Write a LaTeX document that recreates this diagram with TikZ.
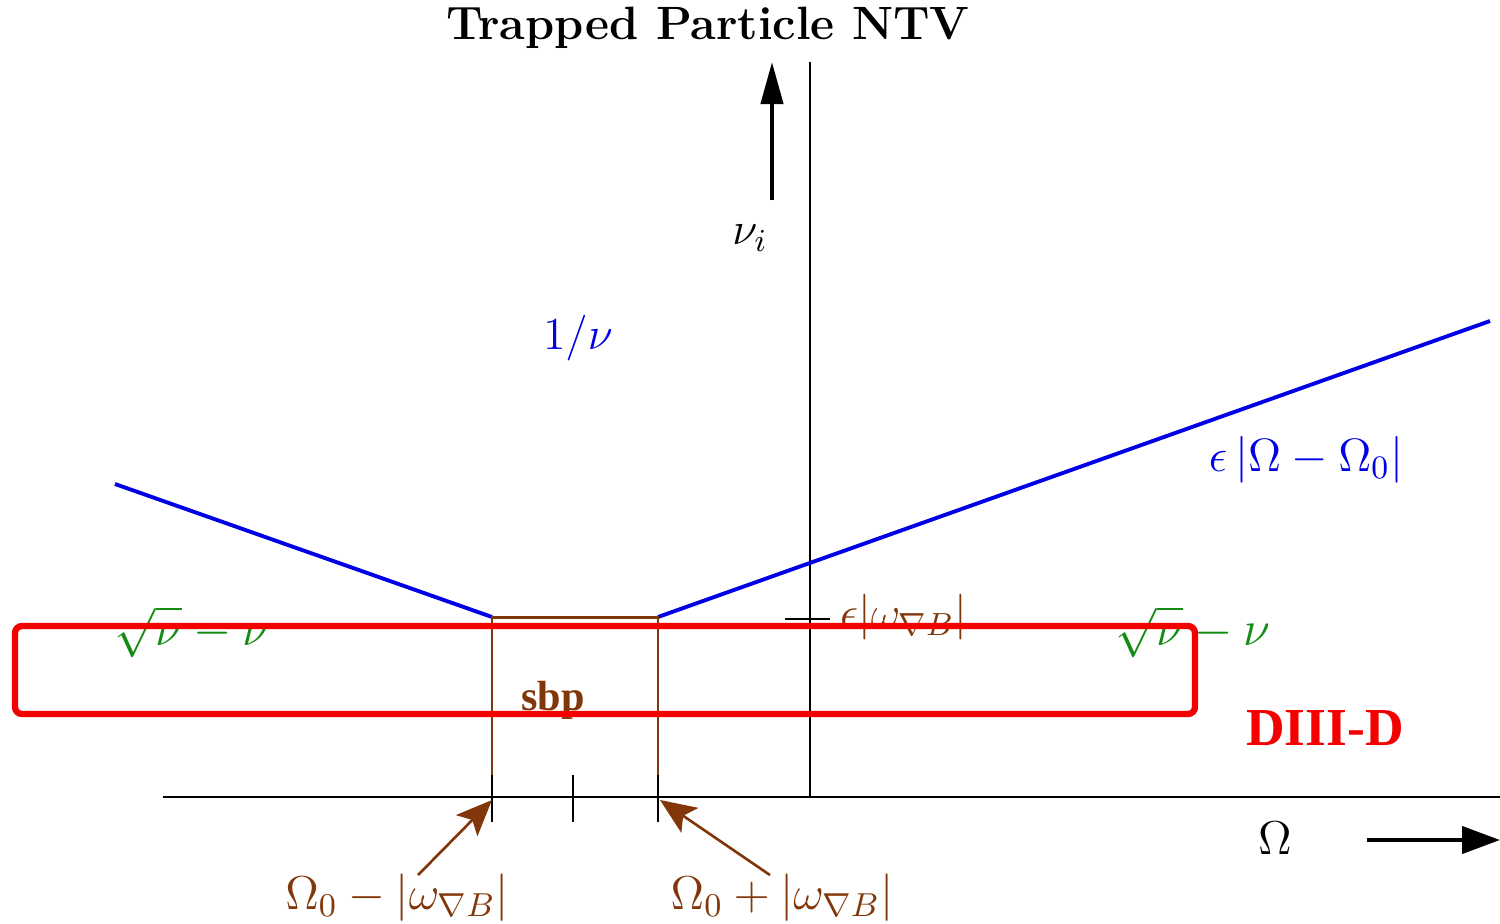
\documentclass[tikz,border=0pt]{standalone}
\usepackage{fix-cm}
\usepackage{amsmath,amssymb}
\usepackage{fontspec}
\newfontfamily\timesfont{Liberation Serif}
\usetikzlibrary{arrows.meta}

\definecolor{ntvblue}{RGB}{0,0,230}
\definecolor{ntvbrown}{RGB}{130,55,10}
\definecolor{ntvgreen}{RGB}{20,140,20}
\definecolor{ntvred}{RGB}{245,0,0}

\begin{document}
\begin{tikzpicture}[
  lab/.style={inner sep=1pt, font=\fontsize{13}{15}\selectfont},
  biglab/.style={inner sep=1pt, font=\fontsize{13.5}{16}\selectfont},
  axis/.style={line width=0.6pt},
  tick/.style={line width=0.6pt},
  curve/.style={ntvblue, line width=1.1pt},
  sbpline/.style={ntvbrown, line width=0.85pt},
  bigarr/.style={-{Triangle[length=4.2mm, width=2.2mm]}, line width=1.2pt},
  sbparr/.style={-{Stealth[length=3.6mm, width=3mm, inset=0.8mm]}, ntvbrown, line width=0.75pt}
]
\useasboundingbox (0,0) rectangle (15,-9.23);

% Title
\node[font=\fontsize{13.3}{15}\selectfont\bfseries] at (7.08,-0.28) (title) {Trapped Particle NTV};

% Axes
\coordinate (ytop) at (8.10,-0.62);
\coordinate (ybot) at (8.10,-7.97);
\coordinate (xleft) at (1.63,-7.97);
\coordinate (xright) at (15.0,-7.97);
\draw[axis] (ybot) -- (ytop);
\draw[axis] (xleft) -- (xright);

% Direction arrows
\coordinate (nutail) at (7.72,-2.00);
\coordinate (nutip) at (7.72,-0.62);
\draw[bigarr] (nutail) -- (nutip);
\node[lab] at (7.50,-2.38) (nulab) {$\nu_i$};
\coordinate (omtail) at (13.67,-8.40);
\coordinate (omtip) at (15.0,-8.40);
\draw[bigarr, -{Triangle[length=3.8mm, width=2.7mm]}] (omtail) -- (omtip);
\node[biglab] at (12.75,-8.38) (omlab) {$\Omega$};

% Regime lines
\coordinate (lstart) at (1.15,-4.84);
\coordinate (lo) at (4.92,-6.17);
\coordinate (hi) at (6.58,-6.17);
\coordinate (rend) at (14.90,-3.21);
\draw[curve] (lstart) -- (lo);
\draw[curve] (hi) -- (rend);

% Superbanana plateau box
\coordinate (lofoot) at (4.92,-7.75);
\coordinate (hifoot) at (6.58,-7.75);
\draw[sbpline] (lofoot) -- (lo) -- (hi) -- (hifoot);
\node[inner sep=1pt, text=ntvbrown, font=\fontsize{12}{14}\selectfont\timesfont\bfseries] at (5.53,-7.00) (sbp) {sbp};

% Ticks
\foreach \x/\n in {4.92/lotick, 5.73/midtick, 6.58/hitick} {
  \coordinate (\n) at (\x,-7.97);
  \draw[tick] ([yshift=2.2mm]\n) -- ([yshift=-2.5mm]\n);
}
\coordinate (ytick) at (8.10,-6.19);
\draw[tick] ([xshift=-2.5mm]ytick) -- ([xshift=2mm]ytick);
\node[lab, text=ntvbrown, anchor=west] at (8.36,-6.17) (epsw) {$\epsilon|\omega_{\nabla B}|$};

% Labels
\node[lab, text=ntvblue] at (5.78,-3.38) (inv) {$1/\nu$};
\node[lab, font=\fontsize{13.3}{16}\selectfont, text=ntvblue] at (13.06,-4.60) (epsom) {$\epsilon\,|\Omega-\Omega_0|$};
\node[lab, font=\fontsize{14}{17}\selectfont, text=ntvgreen] at (1.92,-6.32) (sqrtl) {$\sqrt{\nu}-\nu$};
\node[lab, font=\fontsize{14}{17}\selectfont, text=ntvgreen] at (11.93,-6.32) (sqrtr) {$\sqrt{\nu}-\nu$};
\node[inner sep=1pt, text=ntvred, font=\fontsize{15.2}{17}\selectfont\timesfont\bfseries] at (13.25,-7.28) (diiid) {DIII-D};

% Bounce frequency edges
\node[biglab, text=ntvbrown] at (3.97,-8.98) (lolab) {$\Omega_0-|\omega_{\nabla B}|$};
\node[biglab, text=ntvbrown] at (7.82,-8.98) (hilab) {$\Omega_0+|\omega_{\nabla B}|$};
\draw[sbparr] ([xshift=2.1mm,yshift=-0.5mm]lolab.north) -- ([yshift=-0.3mm]lotick);
\draw[sbparr] ([xshift=-1.2mm,yshift=-0.5mm]hilab.north) -- ([xshift=0.2mm,yshift=-0.3mm]hitick);

% Highlight
\draw[ntvred, line width=1.8pt, rounded corners=2pt] (0.15,-6.26) rectangle (11.95,-7.14);

\end{tikzpicture}
\end{document}
